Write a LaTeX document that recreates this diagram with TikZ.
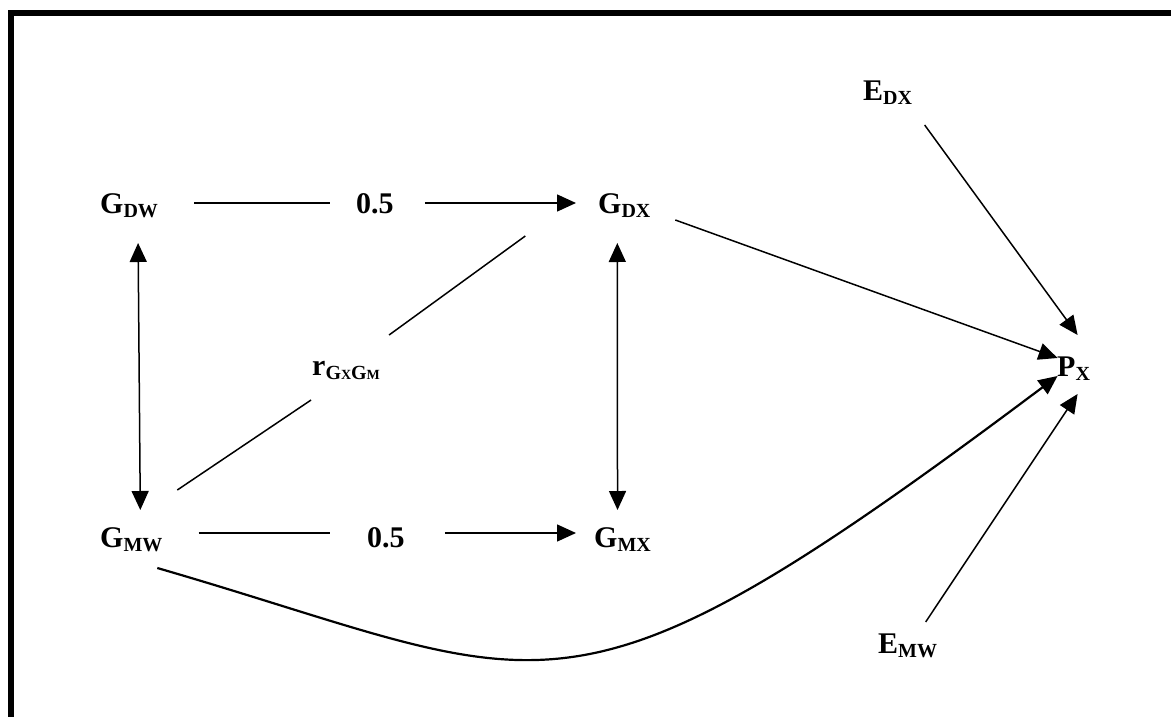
\documentclass[tikz,border=0pt]{standalone}
\usepackage{fontspec}
\setmainfont{Liberation Serif}
\usetikzlibrary{arrows.meta,calc}
\newcommand{\sbs}[1]{\raisebox{-4pt}{\fontsize{20}{20}\selectfont #1}}
\newcommand{\ssbs}[1]{{\fontsize{14}{14}\selectfont #1}}
\begin{document}
\begin{tikzpicture}[x=1pt,y=-1pt,
  lbl/.style={inner sep=0pt, anchor=base west, font=\fontsize{30}{36}\selectfont\bfseries},
  ln/.style={line width=1.5pt},
  arr/.style={line width=1.5pt,-{Triangle[length=19pt,width=17pt]}},
  curvearr/.style={line width=2.2pt,-{Triangle[length=19pt,width=17pt]}},
  dbl/.style={line width=1.5pt,{Triangle[length=19pt,width=17pt]}-{Triangle[length=19pt,width=17pt]}}]
\useasboundingbox (0,0) rectangle (1171,717);
\clip (0,0) rectangle (1171,717);
\fill[white] (0,0) rectangle (1171,717);
\draw[line width=6pt] (10.5,13) rectangle (1300,800);
% nodes
\node[lbl] (gdw) at (100,213) {G\sbs{DW}};
\node[lbl] (h1)  at (356,213) {0.5};
\node[lbl] (gdx) at (598,213) {G\sbs{DX}};
\node[lbl] (gmw) at (100,547) {G\sbs{MW}};
\node[lbl] (h2)  at (367,547) {0.5};
\node[lbl] (gmx) at (594,547) {G\sbs{MX}};
\node[lbl] (r)   at (312,375) {r\sbs{G\ssbs{X}G\ssbs{M}}};
\node[lbl] (edx) at (863,100) {E\sbs{DX}};
\node[lbl] (px)  at (1057,376) {P\sbs{X}};
\node[lbl] (emw) at (878,653) {E\sbs{MW}};
% row 1
\draw[ln] ([shift={(36,-10)}]gdw.base east) -- ([shift={(-26,-10)}]h1.base west);
\draw[arr] ([shift={(31,-10)}]h1.base east) -- ([shift={(-22,-10)}]gdx.base west);
% row 2
\draw[ln] ([shift={(36,-14)}]gmw.base east) -- ([shift={(-37,-14)}]h2.base west);
\draw[arr] ([shift={(40,-14)}]h2.base east) -- ([shift={(-18,-14)}]gmx.base west);
% verticals
\draw[dbl] ([shift={(9,30)}]gdw.base) -- ([shift={(9,-37)}]gmw.base);
\draw[dbl] ([shift={(-7,30)}]gdx.base) -- ([shift={(-5,-37)}]gmx.base);
% diagonal through r
\draw[ln] ([shift={(46,-57)}]gmw.base) -- ([shift={(-35,25)}]r.base);
\draw[ln] ([shift={(43,-40)}]r.base) -- ([shift={(-99,23)}]gdx.base);
% to P_X
\draw[arr] ([shift={(51,7)}]gdx.base) -- ([shift={(-16,-18)}]px.base);
\draw[arr] ([shift={(37,25)}]edx.base) -- ([shift={(4,-41)}]px.base);
\draw[arr] ([shift={(18,-31)}]emw.base) -- ([shift={(4,18)}]px.base);
\draw[curvearr] ([shift={(26,21)}]gmw.base) .. controls +(400,116) and +(-500,375) .. ([shift={(-16,0)}]px.base);
\end{tikzpicture}
\end{document}
